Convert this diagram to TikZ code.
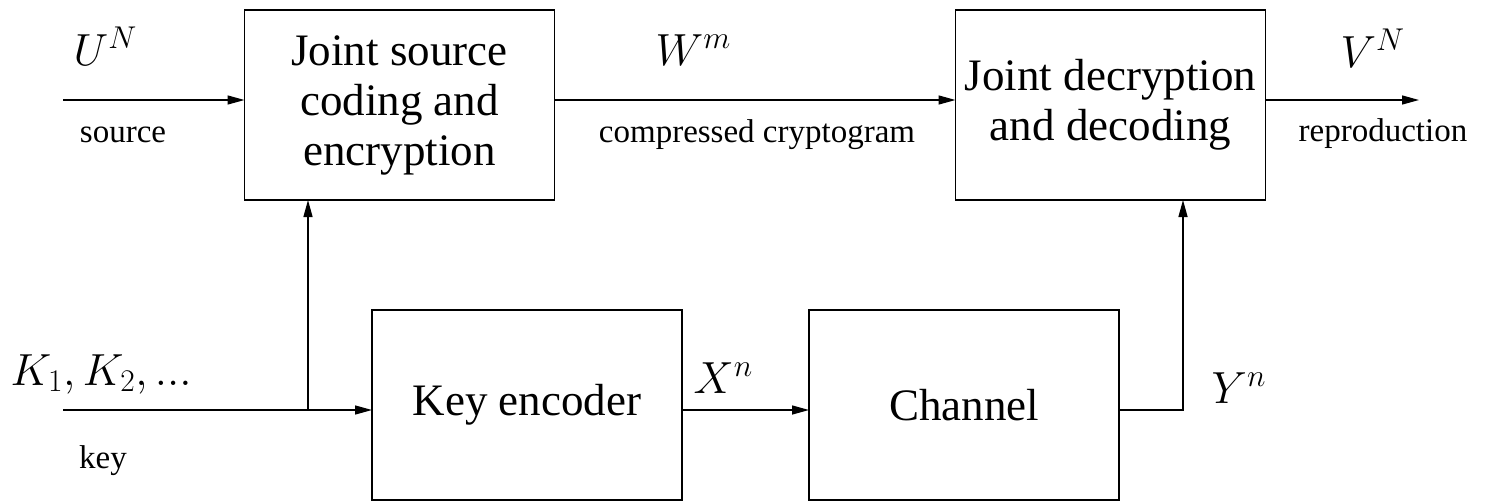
\RequirePackage{fix-cm}
\documentclass[tikz,border=0pt]{standalone}
\usepackage[no-math]{fontspec}
\setmainfont{LiberationSerif}[Extension=.ttf,UprightFont=*-Regular,ItalicFont=*-Italic,BoldFont=*-Bold,BoldItalicFont=*-BoldItalic]
\usetikzlibrary{arrows.meta,positioning,calc}

\begin{document}
\begin{tikzpicture}[x=1pt,y=1pt,->,>={Triangle[length=17pt,width=9pt]},line width=1.4pt,
	block/.style={rectangle,draw,inner sep=0pt,outer sep=0pt,align=center,
		minimum width=310pt,minimum height=190pt,font=\rmfamily\fontsize{45}{50}\selectfont},
	sig/.style={anchor=base west,inner sep=0pt,font=\rmfamily\fontsize{45}{50}\selectfont},
	tag/.style={anchor=base,inner sep=0pt,font=\rmfamily\fontsize{33}{36}\selectfont}]

    \useasboundingbox (0,0) rectangle (1497,-501);

    \node[block] (enc) at (399.5,-105) {Joint source\\coding and\\encryption};
    \node[block] (dec) [right=401pt of enc] {Joint decryption\\and decoding};
    \node[block] (key) [below=110pt of enc, xshift=127.5pt] {Key encoder};
    \node[block] (chan) [right=127pt of key] {Channel};

    \node[sig] (u) at (73,-65) {$U^N$};
    \node[tag] (srctag) at (123,-142) {source};
    \node[sig] (w) at (655,-65) {$W^m$};
    \node[tag] (cctag) at (757,-142) {compressed cryptogram};
    \node[sig] (v) at (1340,-67) {$V^N$};
    \node[tag] (reptag) at (1383,-141) {reproduction};
    \node[sig] (k) at (10,-385) {$K_1, K_2, ...$};
    \node[tag] (keytag) at (103,-468) {key};
    \node[sig] (x) at (693,-393) {$X^n$};
    \node[sig] (y) at (1211,-403) {$Y^n$};

    \coordinate (srcin) at (63,-100);
    \coordinate (out) at (1419,-100);
    \coordinate (keyin) at (63,-410);
    \coordinate (tap) at (308,-410);
    \coordinate (ytap) at (1183,-410);

    \draw (srcin) -- (srcin -| enc.west);
    \draw (srcin -| enc.east) -- (srcin -| dec.west);
    \draw (srcin -| dec.east) -- (out);
    \draw (keyin) -- (keyin -| key.west);
    \draw (tap) -- (tap |- enc.south);
    \draw (keyin -| key.east) -- (keyin -| chan.west);
    \draw (keyin -| chan.east) -- (ytap) -- (ytap |- dec.south);

\end{tikzpicture}
\end{document}
